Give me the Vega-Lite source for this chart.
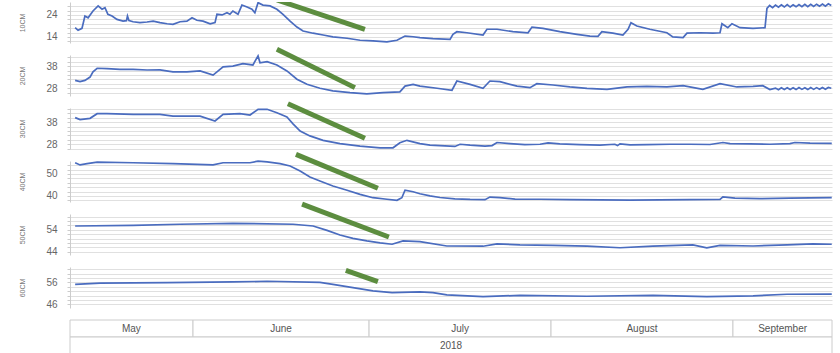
{
  "$schema": "https://vega.github.io/schema/vega-lite/v6.json",
  "padding": {"left": 18, "top": 1, "right": 0, "bottom": 0},
  "bounds": "flush",
  "spacing": 12,
  "config": {
    "view": {"stroke": null},
    "font": "Liberation Sans",
    "axisY": {
      "titleFontSize": 7, "titleColor": "#777777", "titleFontWeight": "normal", "titlePadding": 20,
      "labelFontSize": 10, "labelColor": "#666666", "labelPadding": 10, "labelOverlap": false, "labelFlush": false,
      "format": "d",
      "tickSize": 3, "tickColor": "#cccccc", "domainColor": "#cccccc",
      "grid": true, "gridColor": "#e0e0e0"
    }
  },
  "datasets": {
    "soil": [
      {"d":"10CM","t":"2018-05-11T22:00","v":18.2},{"d":"10CM","t":"2018-05-12T10:00","v":17.0},{"d":"10CM","t":"2018-05-13T02:00","v":17.9},{"d":"10CM","t":"2018-05-13T14:00","v":23.5},{"d":"10CM","t":"2018-05-14T03:00","v":22.7},{"d":"10CM","t":"2018-05-14T23:00","v":25.8},{"d":"10CM","t":"2018-05-15T20:00","v":28.1},{"d":"10CM","t":"2018-05-16T12:00","v":26.6},{"d":"10CM","t":"2018-05-17T00:00","v":27.3},{"d":"10CM","t":"2018-05-17T12:00","v":24.3},{"d":"10CM","t":"2018-05-18T05:00","v":23.5},{"d":"10CM","t":"2018-05-19T01:00","v":22.0},{"d":"10CM","t":"2018-05-20T02:00","v":21.2},{"d":"10CM","t":"2018-05-20T16:00","v":21.4},{"d":"10CM","t":"2018-05-20T20:00","v":23.5},{"d":"10CM","t":"2018-05-21T02:00","v":21.5},{"d":"10CM","t":"2018-05-21T19:00","v":20.9},{"d":"10CM","t":"2018-05-22T23:00","v":20.5},{"d":"10CM","t":"2018-05-24T04:00","v":20.8},{"d":"10CM","t":"2018-05-25T05:00","v":21.2},{"d":"10CM","t":"2018-05-26T09:00","v":20.5},{"d":"10CM","t":"2018-05-27T14:00","v":20.0},{"d":"10CM","t":"2018-05-28T14:00","v":19.7},{"d":"10CM","t":"2018-05-29T19:00","v":20.9},{"d":"10CM","t":"2018-05-30T23:00","v":21.2},{"d":"10CM","t":"2018-05-31T20:00","v":22.7},{"d":"10CM","t":"2018-06-01T16:00","v":21.6},{"d":"10CM","t":"2018-06-02T17:00","v":21.2},{"d":"10CM","t":"2018-06-03T22:00","v":20.0},{"d":"10CM","t":"2018-06-04T18:00","v":20.5},{"d":"10CM","t":"2018-06-05T02:00","v":24.3},{"d":"10CM","t":"2018-06-05T23:00","v":24.0},{"d":"10CM","t":"2018-06-06T19:00","v":25.0},{"d":"10CM","t":"2018-06-07T07:00","v":24.3},{"d":"10CM","t":"2018-06-07T19:00","v":25.8},{"d":"10CM","t":"2018-06-08T16:00","v":24.3},{"d":"10CM","t":"2018-06-09T08:00","v":28.5},{"d":"10CM","t":"2018-06-10T05:00","v":27.6},{"d":"10CM","t":"2018-06-11T01:00","v":26.6},{"d":"10CM","t":"2018-06-11T13:00","v":25.0},{"d":"10CM","t":"2018-06-12T02:00","v":29.6},{"d":"10CM","t":"2018-06-12T22:00","v":28.5},{"d":"10CM","t":"2018-06-14T03:00","v":28.1},{"d":"10CM","t":"2018-06-15T07:00","v":26.6},{"d":"10CM","t":"2018-06-16T08:00","v":24.3},{"d":"10CM","t":"2018-06-17T13:00","v":21.2},{"d":"10CM","t":"2018-06-18T17:00","v":18.5},{"d":"10CM","t":"2018-06-19T18:00","v":16.7},{"d":"10CM","t":"2018-06-21T11:00","v":15.7},{"d":"10CM","t":"2018-06-23T04:00","v":14.9},{"d":"10CM","t":"2018-06-24T20:00","v":14.0},{"d":"10CM","t":"2018-06-27T06:00","v":13.4},{"d":"10CM","t":"2018-06-29T11:00","v":12.5},{"d":"10CM","t":"2018-07-01T16:00","v":12.2},{"d":"10CM","t":"2018-07-04T01:00","v":11.8},{"d":"10CM","t":"2018-07-05T18:00","v":12.5},{"d":"10CM","t":"2018-07-07T03:00","v":14.4},{"d":"10CM","t":"2018-07-08T12:00","v":14.1},{"d":"10CM","t":"2018-07-09T16:00","v":13.7},{"d":"10CM","t":"2018-07-11T21:00","v":13.2},{"d":"10CM","t":"2018-07-14T19:00","v":12.9},{"d":"10CM","t":"2018-07-15T07:00","v":15.2},{"d":"10CM","t":"2018-07-15T23:00","v":16.4},{"d":"10CM","t":"2018-07-17T16:00","v":15.9},{"d":"10CM","t":"2018-07-20T10:00","v":14.9},{"d":"10CM","t":"2018-07-21T02:00","v":17.5},{"d":"10CM","t":"2018-07-22T19:00","v":17.5},{"d":"10CM","t":"2018-07-25T12:00","v":16.4},{"d":"10CM","t":"2018-07-28T02:00","v":15.9},{"d":"10CM","t":"2018-07-28T18:00","v":18.5},{"d":"10CM","t":"2018-07-30T15:00","v":17.9},{"d":"10CM","t":"2018-08-02T12:00","v":16.4},{"d":"10CM","t":"2018-08-05T10:00","v":15.2},{"d":"10CM","t":"2018-08-07T15:00","v":14.4},{"d":"10CM","t":"2018-08-09T00:00","v":14.3},{"d":"10CM","t":"2018-08-09T16:00","v":16.4},{"d":"10CM","t":"2018-08-11T13:00","v":15.7},{"d":"10CM","t":"2018-08-13T06:00","v":14.9},{"d":"10CM","t":"2018-08-14T03:00","v":17.5},{"d":"10CM","t":"2018-08-14T15:00","v":20.5},{"d":"10CM","t":"2018-08-15T15:00","v":19.0},{"d":"10CM","t":"2018-08-17T20:00","v":17.5},{"d":"10CM","t":"2018-08-20T18:00","v":15.9},{"d":"10CM","t":"2018-08-21T18:00","v":14.0},{"d":"10CM","t":"2018-08-23T12:00","v":13.7},{"d":"10CM","t":"2018-08-24T04:00","v":15.7},{"d":"10CM","t":"2018-08-26T09:00","v":15.9},{"d":"10CM","t":"2018-08-28T14:00","v":15.7},{"d":"10CM","t":"2018-08-29T19:00","v":15.9},{"d":"10CM","t":"2018-08-30T03:00","v":20.0},{"d":"10CM","t":"2018-08-31T03:00","v":18.2},{"d":"10CM","t":"2018-08-31T20:00","v":20.0},{"d":"10CM","t":"2018-09-02T05:00","v":18.2},{"d":"10CM","t":"2018-09-04T10:00","v":17.9},{"d":"10CM","t":"2018-09-06T11:00","v":18.2},{"d":"10CM","t":"2018-09-06T19:00","v":27.0},{"d":"10CM","t":"2018-09-07T06:00","v":28.3},{"d":"10CM","t":"2018-09-07T18:00","v":27.3},{"d":"10CM","t":"2018-09-08T06:00","v":28.5},{"d":"10CM","t":"2018-09-08T18:00","v":27.5},{"d":"10CM","t":"2018-09-09T06:00","v":28.6},{"d":"10CM","t":"2018-09-09T18:00","v":27.6},{"d":"10CM","t":"2018-09-10T06:00","v":28.7},{"d":"10CM","t":"2018-09-10T18:00","v":27.6},{"d":"10CM","t":"2018-09-11T06:00","v":28.6},{"d":"10CM","t":"2018-09-11T18:00","v":27.7},{"d":"10CM","t":"2018-09-12T06:00","v":28.7},{"d":"10CM","t":"2018-09-12T18:00","v":27.8},{"d":"10CM","t":"2018-09-13T06:00","v":28.8},{"d":"10CM","t":"2018-09-13T18:00","v":27.8},{"d":"10CM","t":"2018-09-14T06:00","v":28.8},{"d":"10CM","t":"2018-09-14T18:00","v":27.9},{"d":"10CM","t":"2018-09-15T06:00","v":28.9},{"d":"10CM","t":"2018-09-15T18:00","v":28.0},{"d":"10CM","t":"2018-09-16T06:00","v":29.0},{"d":"10CM","t":"2018-09-16T18:00","v":28.0},{"d":"10CM","t":"2018-09-17T06:00","v":29.1},{"d":"10CM","t":"2018-09-17T18:00","v":28.3},
      {"d":"20CM","t":"2018-05-11T22:00","v":31.6},{"d":"20CM","t":"2018-05-12T18:00","v":31.0},{"d":"20CM","t":"2018-05-13T14:00","v":31.6},{"d":"20CM","t":"2018-05-14T11:00","v":33.1},{"d":"20CM","t":"2018-05-14T23:00","v":35.5},{"d":"20CM","t":"2018-05-15T16:00","v":37.1},{"d":"20CM","t":"2018-05-17T08:00","v":36.9},{"d":"20CM","t":"2018-05-19T13:00","v":36.6},{"d":"20CM","t":"2018-05-21T19:00","v":36.6},{"d":"20CM","t":"2018-05-24T04:00","v":36.3},{"d":"20CM","t":"2018-05-26T09:00","v":36.4},{"d":"20CM","t":"2018-05-28T14:00","v":35.5},{"d":"20CM","t":"2018-05-30T23:00","v":35.5},{"d":"20CM","t":"2018-06-02T05:00","v":35.9},{"d":"20CM","t":"2018-06-04T10:00","v":34.0},{"d":"20CM","t":"2018-06-06T03:00","v":37.7},{"d":"20CM","t":"2018-06-07T19:00","v":38.1},{"d":"20CM","t":"2018-06-09T12:00","v":39.2},{"d":"20CM","t":"2018-06-11T05:00","v":38.6},{"d":"20CM","t":"2018-06-12T02:00","v":42.7},{"d":"20CM","t":"2018-06-12T10:00","v":39.6},{"d":"20CM","t":"2018-06-13T15:00","v":40.1},{"d":"20CM","t":"2018-06-15T07:00","v":38.6},{"d":"20CM","t":"2018-06-17T00:00","v":35.9},{"d":"20CM","t":"2018-06-18T17:00","v":32.1},{"d":"20CM","t":"2018-06-20T10:00","v":29.8},{"d":"20CM","t":"2018-06-22T15:00","v":28.0},{"d":"20CM","t":"2018-06-24T20:00","v":26.8},{"d":"20CM","t":"2018-06-27T18:00","v":26.0},{"d":"20CM","t":"2018-06-30T15:00","v":25.5},{"d":"20CM","t":"2018-07-03T09:00","v":26.0},{"d":"20CM","t":"2018-07-06T06:00","v":26.4},{"d":"20CM","t":"2018-07-07T03:00","v":29.0},{"d":"20CM","t":"2018-07-08T12:00","v":29.8},{"d":"20CM","t":"2018-07-09T16:00","v":29.0},{"d":"20CM","t":"2018-07-12T14:00","v":28.0},{"d":"20CM","t":"2018-07-15T03:00","v":27.1},{"d":"20CM","t":"2018-07-15T23:00","v":31.3},{"d":"20CM","t":"2018-07-18T05:00","v":29.8},{"d":"20CM","t":"2018-07-20T10:00","v":28.0},{"d":"20CM","t":"2018-07-21T14:00","v":31.3},{"d":"20CM","t":"2018-07-23T07:00","v":31.0},{"d":"20CM","t":"2018-07-26T05:00","v":29.0},{"d":"20CM","t":"2018-07-28T10:00","v":28.3},{"d":"20CM","t":"2018-07-29T14:00","v":30.1},{"d":"20CM","t":"2018-08-01T08:00","v":29.5},{"d":"20CM","t":"2018-08-04T05:00","v":28.6},{"d":"20CM","t":"2018-08-07T03:00","v":28.0},{"d":"20CM","t":"2018-08-10T13:00","v":27.5},{"d":"20CM","t":"2018-08-13T23:00","v":28.6},{"d":"20CM","t":"2018-08-17T08:00","v":28.9},{"d":"20CM","t":"2018-08-20T18:00","v":28.6},{"d":"20CM","t":"2018-08-23T12:00","v":29.2},{"d":"20CM","t":"2018-08-26T21:00","v":27.5},{"d":"20CM","t":"2018-08-29T19:00","v":30.1},{"d":"20CM","t":"2018-09-01T16:00","v":28.6},{"d":"20CM","t":"2018-09-04T10:00","v":28.9},{"d":"20CM","t":"2018-09-06T02:00","v":29.2},{"d":"20CM","t":"2018-09-07T07:00","v":27.4},{"d":"20CM","t":"2018-09-08T06:00","v":28.1},{"d":"20CM","t":"2018-09-08T18:00","v":27.3},{"d":"20CM","t":"2018-09-09T06:00","v":28.2},{"d":"20CM","t":"2018-09-09T18:00","v":27.4},{"d":"20CM","t":"2018-09-10T06:00","v":28.2},{"d":"20CM","t":"2018-09-10T18:00","v":27.4},{"d":"20CM","t":"2018-09-11T06:00","v":28.2},{"d":"20CM","t":"2018-09-11T18:00","v":27.4},{"d":"20CM","t":"2018-09-12T06:00","v":28.3},{"d":"20CM","t":"2018-09-12T18:00","v":27.5},{"d":"20CM","t":"2018-09-13T06:00","v":28.2},{"d":"20CM","t":"2018-09-13T18:00","v":27.4},{"d":"20CM","t":"2018-09-14T06:00","v":28.3},{"d":"20CM","t":"2018-09-14T18:00","v":27.5},{"d":"20CM","t":"2018-09-15T06:00","v":28.3},{"d":"20CM","t":"2018-09-15T18:00","v":27.6},{"d":"20CM","t":"2018-09-16T06:00","v":28.4},{"d":"20CM","t":"2018-09-16T18:00","v":27.6},{"d":"20CM","t":"2018-09-17T06:00","v":28.4},{"d":"20CM","t":"2018-09-17T18:00","v":28.0},
      {"d":"30CM","t":"2018-05-11T22:00","v":40.1},{"d":"30CM","t":"2018-05-12T18:00","v":39.2},{"d":"30CM","t":"2018-05-14T11:00","v":39.8},{"d":"30CM","t":"2018-05-15T16:00","v":41.9},{"d":"30CM","t":"2018-05-17T08:00","v":41.9},{"d":"30CM","t":"2018-05-21T19:00","v":41.6},{"d":"30CM","t":"2018-05-26T09:00","v":41.6},{"d":"30CM","t":"2018-05-28T14:00","v":40.8},{"d":"30CM","t":"2018-06-02T05:00","v":40.8},{"d":"30CM","t":"2018-06-04T18:00","v":38.6},{"d":"30CM","t":"2018-06-06T03:00","v":41.6},{"d":"30CM","t":"2018-06-09T00:00","v":41.9},{"d":"30CM","t":"2018-06-10T17:00","v":41.3},{"d":"30CM","t":"2018-06-12T02:00","v":43.9},{"d":"30CM","t":"2018-06-13T15:00","v":43.9},{"d":"30CM","t":"2018-06-15T07:00","v":42.3},{"d":"30CM","t":"2018-06-17T00:00","v":40.4},{"d":"30CM","t":"2018-06-18T01:00","v":37.3},{"d":"30CM","t":"2018-06-19T06:00","v":34.0},{"d":"30CM","t":"2018-06-20T22:00","v":31.8},{"d":"30CM","t":"2018-06-23T04:00","v":29.8},{"d":"30CM","t":"2018-06-26T01:00","v":28.3},{"d":"30CM","t":"2018-06-29T11:00","v":27.2},{"d":"30CM","t":"2018-07-02T21:00","v":26.4},{"d":"30CM","t":"2018-07-05T02:00","v":26.4},{"d":"30CM","t":"2018-07-06T06:00","v":28.7},{"d":"30CM","t":"2018-07-07T11:00","v":29.8},{"d":"30CM","t":"2018-07-09T16:00","v":28.3},{"d":"30CM","t":"2018-07-11T09:00","v":27.6},{"d":"30CM","t":"2018-07-13T22:00","v":27.3},{"d":"30CM","t":"2018-07-15T15:00","v":27.0},{"d":"30CM","t":"2018-07-16T12:00","v":28.0},{"d":"30CM","t":"2018-07-18T05:00","v":27.6},{"d":"30CM","t":"2018-07-20T18:00","v":27.2},{"d":"30CM","t":"2018-07-21T23:00","v":27.4},{"d":"30CM","t":"2018-07-22T19:00","v":28.8},{"d":"30CM","t":"2018-07-25T00:00","v":28.3},{"d":"30CM","t":"2018-07-27T13:00","v":27.8},{"d":"30CM","t":"2018-07-30T03:00","v":28.0},{"d":"30CM","t":"2018-07-31T12:00","v":28.6},{"d":"30CM","t":"2018-08-02T12:00","v":28.2},{"d":"30CM","t":"2018-08-05T22:00","v":27.8},{"d":"30CM","t":"2018-08-09T08:00","v":27.6},{"d":"30CM","t":"2018-08-11T21:00","v":28.0},{"d":"30CM","t":"2018-08-12T08:00","v":27.4},{"d":"30CM","t":"2018-08-12T18:00","v":28.2},{"d":"30CM","t":"2018-08-14T11:00","v":27.7},{"d":"30CM","t":"2018-08-17T08:00","v":27.8},{"d":"30CM","t":"2018-08-21T06:00","v":28.0},{"d":"30CM","t":"2018-08-24T16:00","v":28.0},{"d":"30CM","t":"2018-08-28T02:00","v":27.9},{"d":"30CM","t":"2018-08-30T07:00","v":28.8},{"d":"30CM","t":"2018-08-31T12:00","v":28.3},{"d":"30CM","t":"2018-09-03T21:00","v":28.2},{"d":"30CM","t":"2018-09-07T07:00","v":28.0},{"d":"30CM","t":"2018-09-10T17:00","v":28.3},{"d":"30CM","t":"2018-09-11T13:00","v":28.8},{"d":"30CM","t":"2018-09-14T03:00","v":28.5},{"d":"30CM","t":"2018-09-17T20:00","v":28.4},
      {"d":"40CM","t":"2018-05-11T22:00","v":55.1},{"d":"40CM","t":"2018-05-12T18:00","v":54.1},{"d":"40CM","t":"2018-05-13T23:00","v":54.7},{"d":"40CM","t":"2018-05-15T16:00","v":55.4},{"d":"40CM","t":"2018-05-21T19:00","v":55.1},{"d":"40CM","t":"2018-05-28T14:00","v":54.7},{"d":"40CM","t":"2018-06-04T10:00","v":54.1},{"d":"40CM","t":"2018-06-06T03:00","v":55.1},{"d":"40CM","t":"2018-06-10T17:00","v":55.1},{"d":"40CM","t":"2018-06-12T02:00","v":55.8},{"d":"40CM","t":"2018-06-13T15:00","v":55.5},{"d":"40CM","t":"2018-06-15T20:00","v":54.7},{"d":"40CM","t":"2018-06-17T13:00","v":53.6},{"d":"40CM","t":"2018-06-19T06:00","v":51.3},{"d":"40CM","t":"2018-06-20T22:00","v":48.6},{"d":"40CM","t":"2018-06-22T15:00","v":46.8},{"d":"40CM","t":"2018-06-24T20:00","v":44.5},{"d":"40CM","t":"2018-06-27T06:00","v":42.6},{"d":"40CM","t":"2018-06-29T11:00","v":40.7},{"d":"40CM","t":"2018-07-01T16:00","v":39.2},{"d":"40CM","t":"2018-07-04T01:00","v":38.5},{"d":"40CM","t":"2018-07-05T18:00","v":38.0},{"d":"40CM","t":"2018-07-06T14:00","v":39.2},{"d":"40CM","t":"2018-07-07T03:00","v":42.6},{"d":"40CM","t":"2018-07-08T12:00","v":41.9},{"d":"40CM","t":"2018-07-09T16:00","v":41.0},{"d":"40CM","t":"2018-07-11T09:00","v":40.0},{"d":"40CM","t":"2018-07-13T02:00","v":39.3},{"d":"40CM","t":"2018-07-15T15:00","v":38.7},{"d":"40CM","t":"2018-07-18T05:00","v":38.4},{"d":"40CM","t":"2018-07-20T18:00","v":38.3},{"d":"40CM","t":"2018-07-21T14:00","v":39.5},{"d":"40CM","t":"2018-07-23T07:00","v":39.2},{"d":"40CM","t":"2018-07-25T21:00","v":38.6},{"d":"40CM","t":"2018-07-30T03:00","v":38.5},{"d":"40CM","t":"2018-08-04T05:00","v":38.3},{"d":"40CM","t":"2018-08-09T08:00","v":38.2},{"d":"40CM","t":"2018-08-14T11:00","v":38.1},{"d":"40CM","t":"2018-08-19T13:00","v":38.2},{"d":"40CM","t":"2018-08-24T16:00","v":38.3},{"d":"40CM","t":"2018-08-29T19:00","v":38.4},{"d":"40CM","t":"2018-08-30T07:00","v":39.6},{"d":"40CM","t":"2018-09-01T08:00","v":39.0},{"d":"40CM","t":"2018-09-05T14:00","v":38.8},{"d":"40CM","t":"2018-09-10T17:00","v":39.0},{"d":"40CM","t":"2018-09-14T03:00","v":39.1},{"d":"40CM","t":"2018-09-17T20:00","v":39.2},
      {"d":"50CM","t":"2018-05-11T22:00","v":55.7},{"d":"50CM","t":"2018-05-21T19:00","v":56.0},{"d":"50CM","t":"2018-05-29T19:00","v":56.5},{"d":"50CM","t":"2018-06-07T19:00","v":56.9},{"d":"50CM","t":"2018-06-18T01:00","v":56.5},{"d":"50CM","t":"2018-06-21T11:00","v":55.7},{"d":"50CM","t":"2018-06-23T20:00","v":53.7},{"d":"50CM","t":"2018-06-26T01:00","v":51.6},{"d":"50CM","t":"2018-06-28T06:00","v":50.1},{"d":"50CM","t":"2018-06-30T15:00","v":48.9},{"d":"50CM","t":"2018-07-02T21:00","v":48.0},{"d":"50CM","t":"2018-07-04T22:00","v":47.4},{"d":"50CM","t":"2018-07-06T19:00","v":48.9},{"d":"50CM","t":"2018-07-09T16:00","v":48.6},{"d":"50CM","t":"2018-07-14T06:00","v":46.6},{"d":"50CM","t":"2018-07-20T10:00","v":46.5},{"d":"50CM","t":"2018-07-22T19:00","v":47.6},{"d":"50CM","t":"2018-07-26T17:00","v":47.1},{"d":"50CM","t":"2018-08-01T08:00","v":46.9},{"d":"50CM","t":"2018-08-07T03:00","v":46.5},{"d":"50CM","t":"2018-08-12T18:00","v":45.8},{"d":"50CM","t":"2018-08-18T09:00","v":46.5},{"d":"50CM","t":"2018-08-25T04:00","v":47.1},{"d":"50CM","t":"2018-08-27T13:00","v":45.8},{"d":"50CM","t":"2018-08-29T19:00","v":46.9},{"d":"50CM","t":"2018-09-04T10:00","v":46.6},{"d":"50CM","t":"2018-09-10T05:00","v":47.1},{"d":"50CM","t":"2018-09-14T15:00","v":47.6},{"d":"50CM","t":"2018-09-17T20:00","v":47.4},
      {"d":"60CM","t":"2018-05-11T22:00","v":55.1},{"d":"60CM","t":"2018-05-16T04:00","v":55.7},{"d":"60CM","t":"2018-05-27T14:00","v":55.9},{"d":"60CM","t":"2018-06-07T19:00","v":56.2},{"d":"60CM","t":"2018-06-13T15:00","v":56.5},{"d":"60CM","t":"2018-06-22T15:00","v":56.0},{"d":"60CM","t":"2018-06-24T20:00","v":55.1},{"d":"60CM","t":"2018-06-28T06:00","v":53.6},{"d":"60CM","t":"2018-07-01T16:00","v":52.1},{"d":"60CM","t":"2018-07-04T22:00","v":51.3},{"d":"60CM","t":"2018-07-09T16:00","v":51.7},{"d":"60CM","t":"2018-07-11T21:00","v":51.3},{"d":"60CM","t":"2018-07-14T06:00","v":50.3},{"d":"60CM","t":"2018-07-20T10:00","v":49.5},{"d":"60CM","t":"2018-07-26T17:00","v":50.1},{"d":"60CM","t":"2018-08-07T03:00","v":49.7},{"d":"60CM","t":"2018-08-18T09:00","v":50.1},{"d":"60CM","t":"2018-08-27T13:00","v":49.5},{"d":"60CM","t":"2018-09-04T10:00","v":49.9},{"d":"60CM","t":"2018-09-10T05:00","v":50.6},{"d":"60CM","t":"2018-09-17T20:00","v":50.7}
    ],
    "seg": [
      {"d":"10CM","t":"2018-06-15T07:00","v":30.8},{"d":"10CM","t":"2018-06-30T07:00","v":17.5},
      {"d":"20CM","t":"2018-06-15T07:00","v":45.7},{"d":"20CM","t":"2018-06-28T14:00","v":28.3},
      {"d":"30CM","t":"2018-06-17T04:00","v":46.4},{"d":"30CM","t":"2018-06-30T07:00","v":30.7},
      {"d":"40CM","t":"2018-06-18T13:00","v":58.9},{"d":"40CM","t":"2018-07-02T12:00","v":43.5},
      {"d":"50CM","t":"2018-06-19T14:00","v":65.6},{"d":"50CM","t":"2018-07-04T09:00","v":50.7},
      {"d":"60CM","t":"2018-06-27T01:00","v":61.5},{"d":"60CM","t":"2018-07-02T12:00","v":56.3}
    ],
    "months": [
      {"row":"month","label":"May","s":"2018-05-11T01:00","e":"2018-06-01T00:00","mid":"2018-05-21T12:00"},
      {"row":"month","label":"June","s":"2018-06-01T00:00","e":"2018-07-01T00:00","mid":"2018-06-16T00:00"},
      {"row":"month","label":"July","s":"2018-07-01T00:00","e":"2018-08-01T00:00","mid":"2018-07-16T12:00"},
      {"row":"month","label":"August","s":"2018-08-01T00:00","e":"2018-09-01T00:00","mid":"2018-08-16T12:00"},
      {"row":"month","label":"September","s":"2018-09-01T00:00","e":"2018-09-17T21:00","mid":"2018-09-09T11:00"},
      {"row":"year","label":"2018","s":"2018-05-11T01:00","e":"2018-09-17T21:00","mid":"2018-07-14T23:00"}
    ]
  },
  "vconcat": [
    {
      "width": 762, "height": 41,
      "layer": [
        {"data": {"name": "soil"}, "transform": [{"filter": "datum.d === '10CM'"}],
         "mark": {"type": "line", "color": "#4a6cbf", "strokeWidth": 1.7, "clip": true},
         "encoding": {
           "x": {"field": "t", "type": "temporal", "scale": {"domain": [{"year":2018,"month":5,"date":11,"hours":1},{"year":2018,"month":9,"date":17,"hours":21}]}, "axis": null},
           "y": {"field": "v", "type": "quantitative", "scale": {"domain": [11.25, 29.89], "nice": false, "zero": false},
                 "axis": {"title": "10CM", "tickCount": 30, "values": [12,14,16,18,20,22,24,26,28], "labelExpr": "datum.value == 14 || datum.value == 24 ? datum.label : ''"}}
         }},
        {"data": {"name": "seg"}, "transform": [{"filter": "datum.d === '10CM'"}],
         "mark": {"type": "line", "color": "#5c8d3f", "strokeWidth": 5, "strokeCap": "butt", "clip": true},
         "encoding": {"x": {"field": "t", "type": "temporal"}, "y": {"field": "v", "type": "quantitative"}}}
      ]
    },
    {
      "width": 762, "height": 41,
      "layer": [
        {"data": {"name": "soil"}, "transform": [{"filter": "datum.d === '20CM'"}],
         "mark": {"type": "line", "color": "#4a6cbf", "strokeWidth": 1.7},
         "encoding": {
           "x": {"field": "t", "type": "temporal", "scale": {"domain": [{"year":2018,"month":5,"date":11,"hours":1},{"year":2018,"month":9,"date":17,"hours":21}]}, "axis": null},
           "y": {"field": "v", "type": "quantitative", "scale": {"domain": [24.49, 43.13], "nice": false, "zero": false},
                 "axis": {"title": "20CM", "tickCount": 30, "values": [26,28,30,32,34,36,38,40,42], "labelExpr": "datum.value == 28 || datum.value == 38 ? datum.label : ''"}}
         }},
        {"data": {"name": "seg"}, "transform": [{"filter": "datum.d === '20CM'"}],
         "mark": {"type": "line", "color": "#5c8d3f", "strokeWidth": 5, "strokeCap": "butt"},
         "encoding": {"x": {"field": "t", "type": "temporal"}, "y": {"field": "v", "type": "quantitative"}}}
      ]
    },
    {
      "width": 762, "height": 41,
      "layer": [
        {"data": {"name": "soil"}, "transform": [{"filter": "datum.d === '30CM'"}],
         "mark": {"type": "line", "color": "#4a6cbf", "strokeWidth": 1.7},
         "encoding": {
           "x": {"field": "t", "type": "temporal", "scale": {"domain": [{"year":2018,"month":5,"date":11,"hours":1},{"year":2018,"month":9,"date":17,"hours":21}]}, "axis": null},
           "y": {"field": "v", "type": "quantitative", "scale": {"domain": [25.85, 44.49], "nice": false, "zero": false},
                 "axis": {"title": "30CM", "tickCount": 30, "values": [26,28,30,32,34,36,38,40,42,44], "labelExpr": "datum.value == 28 || datum.value == 38 ? datum.label : ''"}}
         }},
        {"data": {"name": "seg"}, "transform": [{"filter": "datum.d === '30CM'"}],
         "mark": {"type": "line", "color": "#5c8d3f", "strokeWidth": 5, "strokeCap": "butt"},
         "encoding": {"x": {"field": "t", "type": "temporal"}, "y": {"field": "v", "type": "quantitative"}}}
      ]
    },
    {
      "width": 762, "height": 41,
      "layer": [
        {"data": {"name": "soil"}, "transform": [{"filter": "datum.d === '40CM'"}],
         "mark": {"type": "line", "color": "#4a6cbf", "strokeWidth": 1.7},
         "encoding": {
           "x": {"field": "t", "type": "temporal", "scale": {"domain": [{"year":2018,"month":5,"date":11,"hours":1},{"year":2018,"month":9,"date":17,"hours":21}]}, "axis": null},
           "y": {"field": "v", "type": "quantitative", "scale": {"domain": [37.25, 55.89], "nice": false, "zero": false},
                 "axis": {"title": "40CM", "tickCount": 30, "values": [38,40,42,44,46,48,50,52,54], "labelExpr": "datum.value == 40 || datum.value == 50 ? datum.label : ''"}}
         }},
        {"data": {"name": "seg"}, "transform": [{"filter": "datum.d === '40CM'"}],
         "mark": {"type": "line", "color": "#5c8d3f", "strokeWidth": 5, "strokeCap": "butt"},
         "encoding": {"x": {"field": "t", "type": "temporal"}, "y": {"field": "v", "type": "quantitative"}}}
      ]
    },
    {
      "width": 762, "height": 41,
      "layer": [
        {"data": {"name": "soil"}, "transform": [{"filter": "datum.d === '50CM'"}],
         "mark": {"type": "line", "color": "#4a6cbf", "strokeWidth": 1.7},
         "encoding": {
           "x": {"field": "t", "type": "temporal", "scale": {"domain": [{"year":2018,"month":5,"date":11,"hours":1},{"year":2018,"month":9,"date":17,"hours":21}]}, "axis": null},
           "y": {"field": "v", "type": "quantitative", "scale": {"domain": [42.51, 61.15], "nice": false, "zero": false},
                 "axis": {"title": "50CM", "tickCount": 30, "values": [44,46,48,50,52,54,56,58,60], "labelExpr": "datum.value == 44 || datum.value == 54 ? datum.label : ''"}}
         }},
        {"data": {"name": "seg"}, "transform": [{"filter": "datum.d === '50CM'"}],
         "mark": {"type": "line", "color": "#5c8d3f", "strokeWidth": 5, "strokeCap": "butt"},
         "encoding": {"x": {"field": "t", "type": "temporal"}, "y": {"field": "v", "type": "quantitative"}}}
      ]
    },
    {
      "width": 762, "height": 41,
      "layer": [
        {"data": {"name": "soil"}, "transform": [{"filter": "datum.d === '60CM'"}],
         "mark": {"type": "line", "color": "#4a6cbf", "strokeWidth": 1.7},
         "encoding": {
           "x": {"field": "t", "type": "temporal", "scale": {"domain": [{"year":2018,"month":5,"date":11,"hours":1},{"year":2018,"month":9,"date":17,"hours":21}]}, "axis": null},
           "y": {"field": "v", "type": "quantitative", "scale": {"domain": [44.35, 62.99], "nice": false, "zero": false},
                 "axis": {"title": "60CM", "tickCount": 30, "values": [46,48,50,52,54,56,58,60,62], "labelExpr": "datum.value == 46 || datum.value == 56 ? datum.label : ''"}}
         }},
        {"data": {"name": "seg"}, "transform": [{"filter": "datum.d === '60CM'"}],
         "mark": {"type": "line", "color": "#5c8d3f", "strokeWidth": 5, "strokeCap": "butt"},
         "encoding": {"x": {"field": "t", "type": "temporal"}, "y": {"field": "v", "type": "quantitative"}}}
      ]
    },
    {
      "width": 762, "height": 34,
      "data": {"name": "months"},
      "layer": [
        {"mark": {"type": "rect", "fill": "#ffffff", "stroke": "#cccccc", "strokeWidth": 1},
         "encoding": {
           "x": {"field": "s", "type": "temporal", "scale": {"domain": [{"year":2018,"month":5,"date":11,"hours":1},{"year":2018,"month":9,"date":17,"hours":21}]}, "axis": null},
           "x2": {"field": "e"},
           "y": {"field": "row", "type": "nominal", "scale": {"domain": ["month", "year"], "paddingInner": 0, "paddingOuter": 0}, "axis": null}
         }},
        {"mark": {"type": "text", "fontSize": 10, "color": "#555555", "font": "Liberation Sans"},
         "encoding": {
           "x": {"field": "mid", "type": "temporal"},
           "y": {"field": "row", "type": "nominal"},
           "text": {"field": "label", "type": "nominal"}
         }}
      ]
    }
  ]
}
